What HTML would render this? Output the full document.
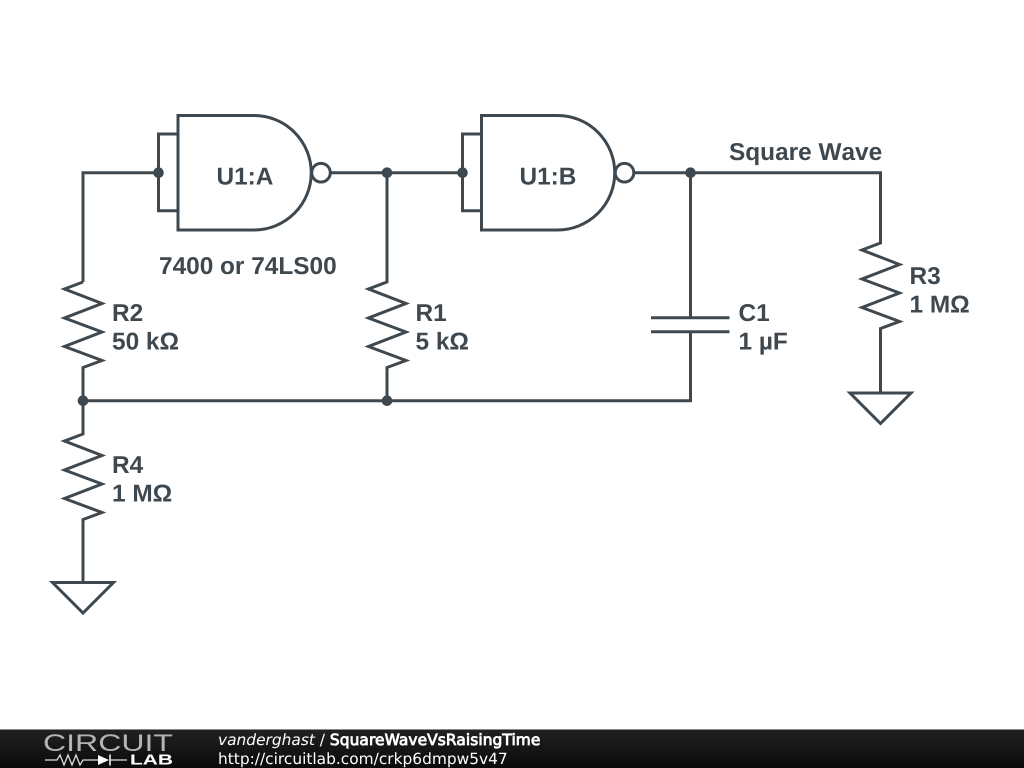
<!DOCTYPE html>
<html><head><meta charset="utf-8"><style>
html,body{margin:0;padding:0;background:#fff;width:1024px;height:768px;overflow:hidden}
svg{display:block;position:absolute;left:0;top:0}
.w{fill:none;stroke:#3f484e;stroke-width:3;stroke-linejoin:miter}
.t{font-family:"Liberation Sans",Arial,sans-serif;font-weight:bold;font-size:24.4px;fill:#3f484e;text-rendering:geometricPrecision;font-kerning:none}
.f{font-family:"DejaVu Sans",sans-serif;font-size:15.4px;fill:#fff;text-rendering:geometricPrecision}
</style></head><body>
<svg width="1024" height="768" viewBox="0 0 1024 768" xmlns="http://www.w3.org/2000/svg">
<defs>
<linearGradient id="g" x1="0" y1="0" x2="0" y2="1"><stop offset="0" stop-color="#222"/><stop offset="1" stop-color="#0a0a0a"/></linearGradient>
</defs>
<rect width="1024" height="768" fill="#fff"/>
<!-- wires -->
<path class="w" d="M158.5 172.7H83V282"/>
<path class="w" d="M83 282L64.500 289 102 303.500 64.500 318 102 332 64.500 346.500 102 360.500 83 367.500V434L64.500 441 102 455.500 64.500 470 102 484 64.500 498.500 102 512.500 83 519.500V582.500"/>
<path class="w" d="M52.500 582.500H113.500L83 613Z"/>
<path class="w" d="M331 172.700H462"/>
<path class="w" d="M387 172.700V282L368.500 289 406 303.500 368.500 318 406 332 368.500 346.500 406 360.500 387 367.500V400.700"/>
<path class="w" d="M83 400.700H690.500V331.700"/>
<path class="w" d="M634.500 172.700H880.500V243L862 250 899.500 264.500 862 279 899.500 293 862 307.500 899.500 321.500 880.500 328.500V393"/>
<path class="w" d="M850 393H911L880.500 423.500Z"/>
<path class="w" d="M690.500 172.700V317.700M651 317.700H729.500M651 331.700H729.500"/>
<!-- gates -->
<path class="w" d="M178 115.500H254A57.250 57.250 0 0 1 254 230H178Z"/>
<path class="w" d="M178 134H158.500V210.700H178"/>
<circle class="w" cx="321" cy="172.700" r="9.300"/>
<path class="w" d="M481.500 115.500H557.500A57.250 57.250 0 0 1 557.500 230H481.500Z"/>
<path class="w" d="M481.500 134H462.500V210.700H481.500"/>
<circle class="w" cx="624.500" cy="172.700" r="9.300"/>
<!-- dots -->
<g fill="#3f484e">
<circle cx="158.500" cy="172.700" r="5.300"/><circle cx="387" cy="172.700" r="5.300"/>
<circle cx="462.500" cy="172.700" r="5.300"/><circle cx="690.500" cy="172.700" r="5.300"/>
<circle cx="83" cy="400.700" r="5.300"/><circle cx="387" cy="400.700" r="5.300"/>
</g>
<!-- labels -->
<text class="t" x="216.500" y="184.500">U1:A</text>
<text class="t" x="519.500" y="184.500">U1:B</text>
<text class="t" x="159" y="274">7400 or 74LS00</text>
<text class="t" x="729" y="160">Square Wave</text>
<text class="t" x="112" y="321">R2</text>
<text class="t" x="112" y="349.500">50 kΩ</text>
<text class="t" x="415.500" y="321">R1</text>
<text class="t" x="415.500" y="349.500">5 kΩ</text>
<text class="t" x="738.500" y="321">C1</text>
<text class="t" x="738.500" y="349.500">1 µF</text>
<text class="t" x="909.500" y="284">R3</text>
<text class="t" x="909.500" y="312.500">1 MΩ</text>
<text class="t" x="112" y="473">R4</text>
<text class="t" x="112" y="501.500">1 MΩ</text>
<!-- footer -->
<rect y="729" width="1024" height="39" fill="url(#g)"/>
<rect y="729" width="1024" height="1" fill="#8a8a8a"/>
<text x="43" y="751" font-family="Liberation Sans,sans-serif" font-size="24.500" fill="#b4b4b4" textLength="130" lengthAdjust="spacingAndGlyphs">CIRCUIT</text>
<text x="130" y="764.500" font-family="Liberation Sans,sans-serif" font-weight="bold" font-size="14.500" fill="#fff" textLength="43" lengthAdjust="spacingAndGlyphs">LAB</text>
<path d="M45 760H57L60 755 64 765 68 755 72 765 76 755 80 765 83 760H98M110 760H127" fill="none" stroke="#ddd" stroke-width="1.300"/>
<path d="M98 755V765L109 760Z" fill="#fff"/><path d="M110 754.500V765.500" stroke="#fff" stroke-width="1.500" fill="none"/>
<text class="f" x="218" y="745"><tspan font-style="italic">vanderghast</tspan> / <tspan stroke="#fff" stroke-width="0.800" letter-spacing="0.090">SquareWaveVsRaisingTime</tspan></text>
<text class="f" x="218" y="764">http://circuitlab.com/crkp6dmpw5v47</text>
</svg>
</body></html>
